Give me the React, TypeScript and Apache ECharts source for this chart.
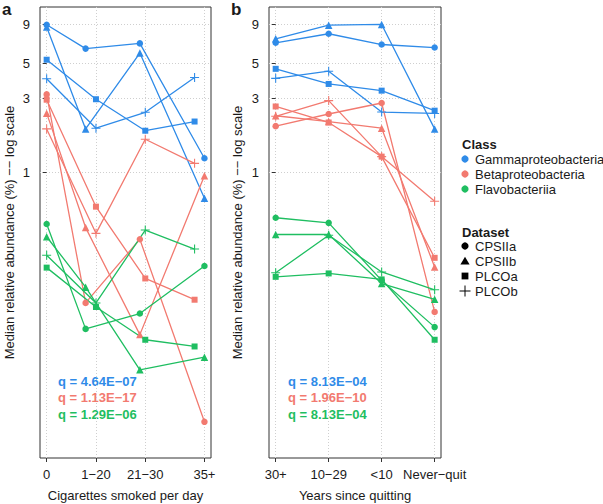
import React, { useEffect, useRef } from "react";
import * as echarts from "echarts";

const FONT = '"Liberation Sans", Arial, Helvetica, sans-serif';
const classNames = ["Gammaproteobacteria", "Betaproteobacteria", "Flavobacteriia"];
const classColors = ["#2F8BE8", "#F27A70", "#1FBE61"];
const datasetNames = ["CPSIIa", "CPSIIb", "PLCOa", "PLCOb"];

// panel a: cigarettes smoked per day
const cigLabels = ["0", "1\u221220", "21\u221230", "35+"];
const cigTickPos = [0, 1, 2, 3.2];
const cigPosCPSII = [0, 0.79, 1.89, 3.2];
const cigPosPLCO = [0, 1, 2, 3.0];

// panel b: years since quitting
const quitLabels = ["30+", "10\u221229", "<10", "Never\u2212quit"];
const quitPos = [0, 1, 2, 3];

const yTicks = [1, 3, 5, 9];

// Panel a values (median relative abundance, %), per dataset: CPSIIa, CPSIIb, PLCOa, PLCOb
const cigGamma = [
  [8.9, 6.25, 6.75, 1.23],
  [8.6, 1.9, 5.85, 0.68],
  [5.3, 2.95, 1.85, 2.12],
  [4.0, 1.92, 2.43, 4.07],
];
const cigBeta = [
  [3.17, 0.144, 0.37, 0.0247],
  [2.4, 0.44, 0.09, 0.95],
  [2.93, 0.6, 0.207, 0.151],
  [1.9, 0.404, 1.63, 1.14],
];
const cigFlavo = [
  [0.464, 0.098, 0.123, 0.249],
  [0.384, 0.182, 0.0534, 0.0644],
  [0.243, 0.1355, 0.0834, 0.0755],
  [0.292, 0.144, 0.424, 0.32],
];

// Panel b values
const quitGamma = [
  [6.81, 7.79, 6.64, 6.35],
  [7.23, 8.85, 8.94, 1.9],
  [4.63, 3.7, 3.35, 2.49],
  [4.02, 4.47, 2.44, 2.39],
];
const quitBeta = [
  [1.98, 2.37, 2.79, 0.126],
  [2.31, 2.12, 1.92, 0.245],
  [2.65, 2.09, 1.26, 0.281],
  [2.29, 2.89, 1.26, 0.65],
];
const quitFlavo = [
  [0.509, 0.472, 0.201, 0.1006],
  [0.397, 0.397, 0.192, 0.152],
  [0.212, 0.223, 0.204, 0.0834],
  [0.225, 0.393, 0.228, 0.175],
];

const qCig = ["q = 4.64E\u221207", "q = 1.13E\u221217", "q = 1.29E\u221206"];
const qQuit = ["q = 8.13E\u221204", "q = 1.96E\u221210", "q = 8.13E\u221204"];

const PLUS = "path://M4.4,0H5.6V4.4H10V5.6H5.6V10H4.4V5.6H0V4.4H4.4Z";
const symbols = ["circle", "triangle", "rect", PLUS];
const symbolSizes = [6.5, 7.5, 6, 9];

function nearestLabel(v: number, pos: number[], labels: string[]) {
  let best = 0;
  for (let i = 0; i < pos.length; i++) if (Math.abs(pos[i] - v) < Math.abs(pos[best] - v)) best = i;
  return labels[best];
}

export default function App() {
  const ref = useRef<HTMLDivElement>(null);
  useEffect(() => {
    if (!ref.current) return;
    const chart = echarts.init(ref.current, null, { renderer: "svg" });
    const series: any[] = [];
    const panels = [
      { data: [cigGamma, cigBeta, cigFlavo], xs: (d: number) => (d < 2 ? cigPosCPSII : cigPosPLCO) },
      { data: [quitGamma, quitBeta, quitFlavo], xs: (_d: number) => quitPos },
    ];
    panels.forEach((p, pi) => {
      p.data.forEach((cls, ci) => {
        cls.forEach((vals, di) => {
          const xs = p.xs(di);
          series.push({
            type: "line",
            name: classNames[ci] + " " + datasetNames[di],
            xAxisIndex: pi,
            yAxisIndex: pi,
            data: vals.map((v, i) => [xs[i], v]),
            symbol: symbols[di],
            symbolSize: symbolSizes[di],
            showSymbol: true,
            silent: true,
            lineStyle: { width: 1.3, color: classColors[ci] },
            itemStyle: { color: classColors[ci] },
            emphasis: { disabled: true },
          });
        });
      });
    });

    const axisCommonY = {
      type: "log",
      logBase: 10,
      min: 0.01445,
      max: 11.58,
      axisLine: { show: false },
      axisTick: { show: true, customValues: yTicks, length: 4, lineStyle: { color: "#333" } },
      axisLabel: {
        customValues: yTicks,
        formatter: (v: number) => String(Math.round(v)),
        fontSize: 13,
        fontFamily: FONT,
        color: "#1a1a1a",
        margin: 10,
      },
      splitLine: { show: true, lineStyle: { color: "#cfcfcf", type: [1, 2], width: 1 } },
    };

    const graphic: any[] = [];
    const txt = (text: string, x: number, y: number, opts: any = {}) => ({
      type: "text",
      x,
      y,
      rotation: opts.rotation || 0,
      silent: true,
      style: {
        text,
        fill: opts.fill || "#1a1a1a",
        font: `${opts.bold ? "bold " : ""}${opts.size || 13}px ${FONT}`,
        textAlign: opts.align || "left",
        textVerticalAlign: "middle",
      },
    });
    graphic.push(txt("a", 2, 9, { bold: true, size: 17 }));
    graphic.push(txt("b", 231, 9, { bold: true, size: 17 }));
    graphic.push(txt("Median relative abundance (%) \u2212\u2212 log scale", 9, 232.5, { rotation: Math.PI / 2, align: "center" }));
    graphic.push(txt("Median relative abundance (%) \u2212\u2212 log scale", 237, 232.5, { rotation: Math.PI / 2, align: "center" }));
    graphic.push(txt("Cigarettes smoked per day", 125.5, 495.5, { align: "center" }));
    graphic.push(txt("Years since quitting", 355, 495.5, { align: "center" }));
    const qY = [381.5, 397, 414];
    qCig.forEach((t, i) => graphic.push(txt(t, 58, qY[i], { bold: true, fill: classColors[i] })));
    qQuit.forEach((t, i) => graphic.push(txt(t, 288, qY[i], { bold: true, fill: classColors[i] })));

    // legend
    graphic.push(txt("Class", 462, 144, { bold: true }));
    classNames.forEach((n, i) => {
      const y = 159 + i * 15;
      graphic.push({ type: "circle", silent: true, shape: { cx: 465, cy: y, r: 3.6 }, style: { fill: classColors[i] } });
      graphic.push(txt(n, 475, y));
    });
    graphic.push(txt("Dataset", 462, 232, { bold: true }));
    const dy = [246, 261, 276, 291];
    graphic.push({ type: "circle", silent: true, shape: { cx: 465, cy: dy[0], r: 3.6 }, style: { fill: "#000" } });
    graphic.push({
      type: "polygon",
      silent: true,
      shape: { points: [[465, dy[1] - 4.3], [469.6, dy[1] + 3.5], [460.4, dy[1] + 3.5]] },
      style: { fill: "#000" },
    });
    graphic.push({ type: "rect", silent: true, shape: { x: 461.6, y: dy[2] - 3.4, width: 6.8, height: 6.8 }, style: { fill: "#000" } });
    graphic.push({ type: "line", silent: true, shape: { x1: 459.5, y1: dy[3], x2: 470.5, y2: dy[3] }, style: { stroke: "#000", lineWidth: 1 } });
    graphic.push({ type: "line", silent: true, shape: { x1: 465, y1: dy[3] - 5.5, x2: 465, y2: dy[3] + 5.5 }, style: { stroke: "#000", lineWidth: 1 } });
    datasetNames.forEach((n, i) => graphic.push(txt(n, 475, dy[i])));

    const xLabelCommon = { fontSize: 13, fontFamily: FONT, color: "#1a1a1a", margin: 10 };
    const xSplit = { show: true, lineStyle: { color: "#cfcfcf", type: [1, 2], width: 1 } };

    chart.setOption({
      animation: false,
      backgroundColor: "#ffffff",
      grid: [
        { left: 40, top: 7, width: 171, height: 451, show: true, borderColor: "#333", borderWidth: 1, backgroundColor: "transparent" },
        { left: 269, top: 7, width: 172, height: 451, show: true, borderColor: "#333", borderWidth: 1, backgroundColor: "transparent" },
      ],
      xAxis: [
        {
          type: "value",
          gridIndex: 0,
          min: -0.135,
          max: 3.333,
          axisLine: { show: false },
          axisTick: { show: true, customValues: cigTickPos, length: 4, lineStyle: { color: "#333" } },
          axisLabel: { ...xLabelCommon, customValues: cigTickPos, formatter: (v: number) => nearestLabel(v, cigTickPos, cigLabels) },
          splitLine: xSplit,
        },
        {
          type: "value",
          gridIndex: 1,
          min: -0.126,
          max: 3.12,
          axisLine: { show: false },
          axisTick: { show: true, customValues: quitPos, length: 4, lineStyle: { color: "#333" } },
          axisLabel: { ...xLabelCommon, customValues: quitPos, formatter: (v: number) => nearestLabel(v, quitPos, quitLabels) },
          splitLine: xSplit,
        },
      ],
      yAxis: [
        { ...axisCommonY, gridIndex: 0 },
        { ...axisCommonY, gridIndex: 1 },
      ],
      series,
      graphic,
    });
    return () => chart.dispose();
  }, []);
  return <div ref={ref} style={{ position: "absolute", left: 0, top: 0, width: 603, height: 504, background: "#fff" }} />;
}
